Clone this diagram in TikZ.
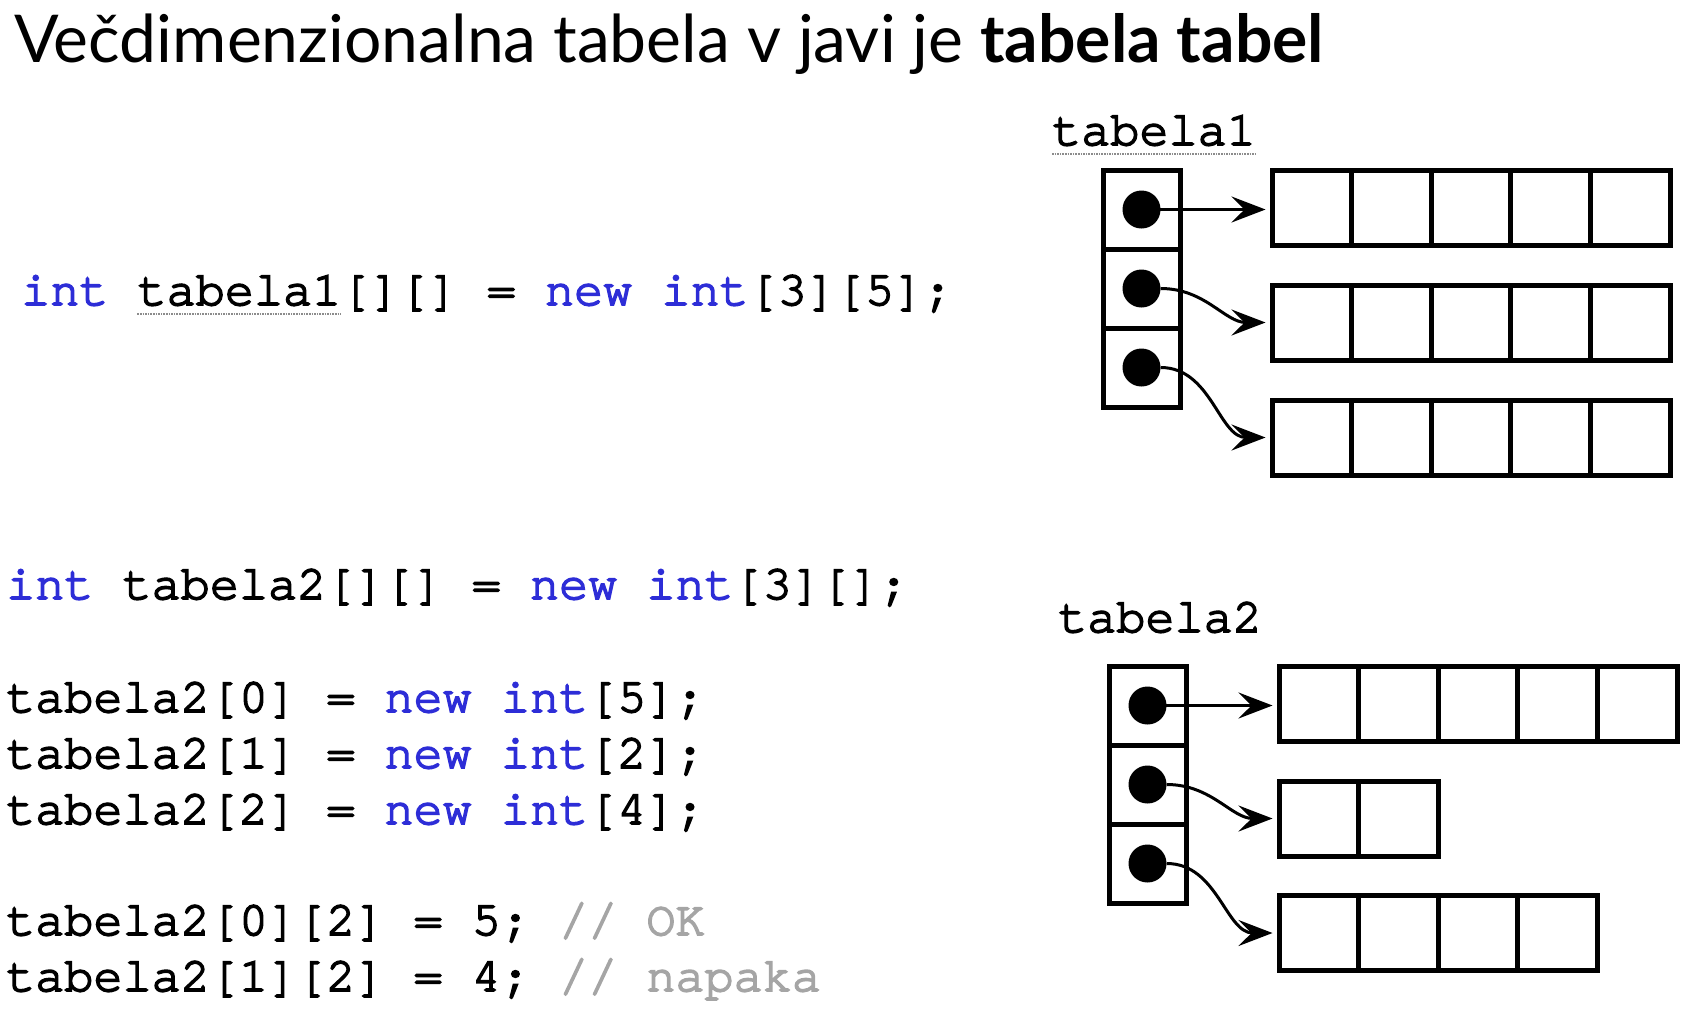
\documentclass[tikz,border=0pt]{standalone}
\usepackage{fontspec}
\setmainfont{Lato}
\setmonofont[FakeBold=3.5]{TeX Gyre Cursor}
\usetikzlibrary{positioning,arrows.meta,calc}
\definecolor{kw}{RGB}{45,45,215}
\definecolor{cmt}{RGB}{165,165,165}
\newcommand{\kw}[1]{\textcolor{kw}{#1}}
\newcommand{\cmt}[1]{\textcolor{cmt}{#1}}

\begin{document}
\begin{tikzpicture}[x=1pt, y=-1pt,
    >={Stealth[length=34pt, width=26pt, inset=13pt]},
    code/.style={font=\fontsize{48.5}{58}\ttfamily, anchor=base west, inner sep=0pt},
    cell/.style={draw, line width=5pt, minimum width=79.6pt, minimum height=75pt, inner sep=0pt},
    slot/.style={cell, minimum width=77pt, minimum height=79pt},
    dotn/.style={circle, fill=black, inner sep=0pt, minimum size=38pt},
    ptr/.style={->, line width=3pt, shorten >=4pt},
    squig/.style={densely dotted, line width=1.6pt, black!45},
  ]
  \useasboundingbox (0,0) rectangle (1700,1010);

  \node[font=\fontsize{66}{72}\selectfont, anchor=base west, inner sep=0pt] (title) at (14,62)
    {Večdimenzionalna tabela v javi je \textbf{tabela tabel}};

  % code
  \node[code] (l1) at (21,305) {\kw{int} tabela1[][] = \kw{new} \kw{int}[3][5];};
  \node[code] (l2) at (6,599)  {\kw{int} tabela2[][] = \kw{new} \kw{int}[3][];};
  \node[code] (l3) at (6,712)  {tabela2[0] = \kw{new} \kw{int}[5];};
  \node[code] (l4) at (6,768)  {tabela2[1] = \kw{new} \kw{int}[2];};
  \node[code] (l5) at (6,824)  {tabela2[2] = \kw{new} \kw{int}[4];};
  \node[code] (l6) at (6,935)  {tabela2[0][2] = 5; \cmt{// OK}};
  \node[code] (l7) at (6,991)  {tabela2[1][2] = 4; \cmt{// napaka}};
  \draw[squig] ([shift={(4*29.1pt,-9pt)}]l1.base west) -- ([shift={(11*29.1pt,-9pt)}]l1.base west);

  % tabela1
  \node[code] (lab1) at (1052,145) {tabela1};
  \draw[squig] ([yshift=-9pt]lab1.base west) -- ([yshift=-9pt]lab1.base east);
  \foreach \y [count=\i from 0] in {209.5,288.5,367.5} {
    \node[slot] (p\i) at (1141.5,\y) {};
    \node[dotn] (d\i) at (p\i.center) {};
  }
  \foreach \y [count=\i from 0] in {207.5,322.5,437.5}
    \foreach \j in {0,...,4}
      \node[cell] (c\i\j) at ({1311.8+79.6*\j},\y) {};
  \draw[ptr] (d0.center) -- (d0.center -| c00.west);
  \draw[ptr] (d1.east) to[out=0, in=180] (c10.west);
  \draw[ptr] (d2.east) to[out=0, in=180] (c20.west);

  % tabela2
  \node[code] (lab2) at (1058,632) {tabela2};
  \foreach \y [count=\i from 0] in {705.5,784.5,863.5} {
    \node[slot] (q\i) at (1147.5,\y) {};
    \node[dotn] (f\i) at (q\i.center) {};
  }
  \foreach \y/\n [count=\i from 0] in {704/4,818.5/1,933/3}
    \foreach \j in {0,...,\n}
      \node[cell] (e\i\j) at ({1318.8+79.6*\j},\y) {};
  \draw[ptr] (f0.center) -- (f0.center -| e00.west);
  \draw[ptr] (f1.east) to[out=0, in=180] (e10.west);
  \draw[ptr] (f2.east) to[out=0, in=180] (e20.west);
\end{tikzpicture}
\end{document}
